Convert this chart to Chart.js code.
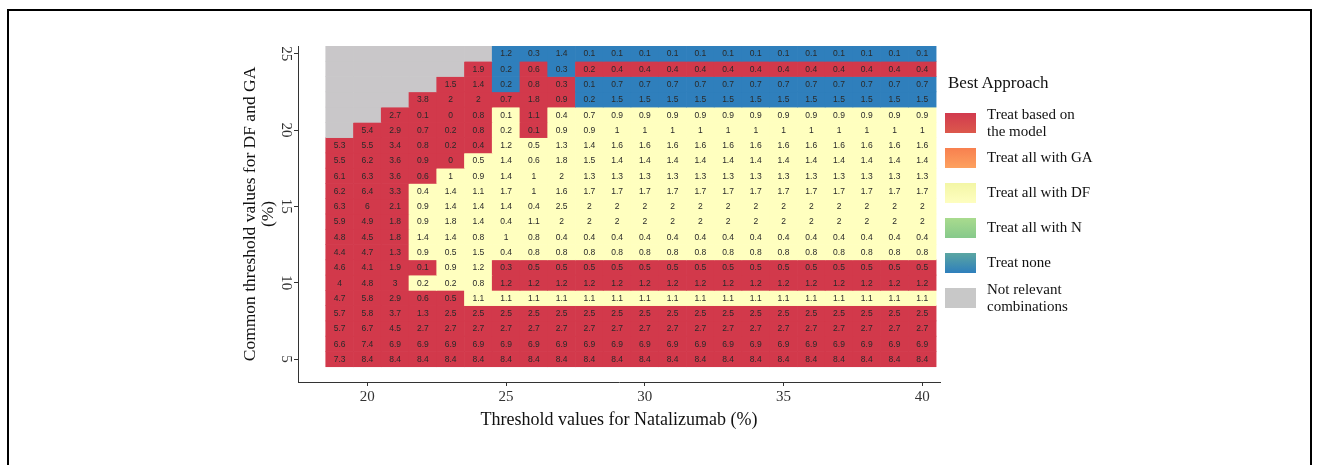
<!DOCTYPE html>
<html>
<head>
<meta charset="utf-8">
<script src="https://cdn.jsdelivr.net/npm/chart.js@4.4.1/dist/chart.umd.min.js"></script>
<style>
  html, body { margin: 0; padding: 0; background: #fff; }
  body { width: 1319px; height: 465px; position: relative; overflow: hidden; font-family: "Liberation Serif", serif; }
  #frame { position: absolute; left: 7px; top: 9px; width: 1301px; height: 470px; border: 2px solid #000; border-bottom: none; }
  #chart { position: absolute; left: 0; top: 0; }
  #legendTitle { position: absolute; left: 948px; top: 72px; font-size: 17px; line-height: 22px; color: #111; }
  #legend { position: absolute; left: 945px; top: 105px; }
  .item { height: 35px; display: flex; align-items: center; }
  .swatch { width: 31px; height: 20px; margin-right: 11px; flex: none; }
  .label { font-size: 15px; line-height: 17px; color: #111; }
</style>
</head>
<body>
<div id="frame"></div>
<canvas id="chart" width="1319" height="465"></canvas>
<div id="legendTitle">Best Approach</div>
<div id="legend"></div>
<script>
// Threshold for Natalizumab (columns) and common DF/GA threshold (rows, top to bottom)
const colThresholds = [19, 20, 21, 22, 23, 24, 25, 26, 27, 28, 29, 30, 31, 32, 33, 34, 35, 36, 37, 38, 39, 40];
const rowThresholds = [25, 24, 23, 22, 21, 20, 19, 18, 17, 16, 15, 14, 13, 12, 11, 10, 9, 8, 7, 6, 5];
const xTicks = [20, 25, 30, 35, 40];
const yTicks = [5, 10, 15, 20, 25];

// M = model, G = all GA, D = all DF, N = all N, B = none, X = not relevant
const approachKeys = ['M', 'G', 'D', 'N', 'B', 'X'];
const approachLabels = [
    ['Treat based on', 'the model'],
    ['Treat all with GA'],
    ['Treat all with DF'],
    ['Treat all with N'],
    ['Treat none'],
    ['Not relevant', 'combinations']
];

const bestApproach = [
    'XXXXXXBBBBBBBBBBBBBBBB',
    'XXXXXMBMBMMMMMMMMMMMMM',
    'XXXXMMBMMBBBBBBBBBBBBB',
    'XXXMMMMMMBBBBBBBBBBBBB',
    'XXMMMMDMDDDDDDDDDDDDDD',
    'XMMMMMDMDDDDDDDDDDDDDD',
    'MMMMMMDDDDDDDDDDDDDDDD',
    'MMMMMDDDDDDDDDDDDDDDDD',
    'MMMMDDDDDDDDDDDDDDDDDD',
    'MMMDDDDDDDDDDDDDDDDDDD',
    'MMMDDDDDDDDDDDDDDDDDDD',
    'MMMDDDDDDDDDDDDDDDDDDD',
    'MMMDDDDDDDDDDDDDDDDDDD',
    'MMMDDDDDDDDDDDDDDDDDDD',
    'MMMMDDMMMMMMMMMMMMMMMM',
    'MMMDDDMMMMMMMMMMMMMMMM',
    'MMMMMDDDDDDDDDDDDDDDDD',
    'MMMMMMMMMMMMMMMMMMMMMM',
    'MMMMMMMMMMMMMMMMMMMMMM',
    'MMMMMMMMMMMMMMMMMMMMMM',
    'MMMMMMMMMMMMMMMMMMMMMM'
];

const cellValues = [
    [null, null, null, null, null, null, 1.2, 0.3, 1.4, 0.1, 0.1, 0.1, 0.1, 0.1, 0.1, 0.1, 0.1, 0.1, 0.1, 0.1, 0.1, 0.1],
    [null, null, null, null, null, 1.9, 0.2, 0.6, 0.3, 0.2, 0.4, 0.4, 0.4, 0.4, 0.4, 0.4, 0.4, 0.4, 0.4, 0.4, 0.4, 0.4],
    [null, null, null, null, 1.5, 1.4, 0.2, 0.8, 0.3, 0.1, 0.7, 0.7, 0.7, 0.7, 0.7, 0.7, 0.7, 0.7, 0.7, 0.7, 0.7, 0.7],
    [null, null, null, 3.8, 2, 2, 0.7, 1.8, 0.9, 0.2, 1.5, 1.5, 1.5, 1.5, 1.5, 1.5, 1.5, 1.5, 1.5, 1.5, 1.5, 1.5],
    [null, null, 2.7, 0.1, 0, 0.8, 0.1, 1.1, 0.4, 0.7, 0.9, 0.9, 0.9, 0.9, 0.9, 0.9, 0.9, 0.9, 0.9, 0.9, 0.9, 0.9],
    [null, 5.4, 2.9, 0.7, 0.2, 0.8, 0.2, 0.1, 0.9, 0.9, 1, 1, 1, 1, 1, 1, 1, 1, 1, 1, 1, 1],
    [5.3, 5.5, 3.4, 0.8, 0.2, 0.4, 1.2, 0.5, 1.3, 1.4, 1.6, 1.6, 1.6, 1.6, 1.6, 1.6, 1.6, 1.6, 1.6, 1.6, 1.6, 1.6],
    [5.5, 6.2, 3.6, 0.9, 0, 0.5, 1.4, 0.6, 1.8, 1.5, 1.4, 1.4, 1.4, 1.4, 1.4, 1.4, 1.4, 1.4, 1.4, 1.4, 1.4, 1.4],
    [6.1, 6.3, 3.6, 0.6, 1, 0.9, 1.4, 1, 2, 1.3, 1.3, 1.3, 1.3, 1.3, 1.3, 1.3, 1.3, 1.3, 1.3, 1.3, 1.3, 1.3],
    [6.2, 6.4, 3.3, 0.4, 1.4, 1.1, 1.7, 1, 1.6, 1.7, 1.7, 1.7, 1.7, 1.7, 1.7, 1.7, 1.7, 1.7, 1.7, 1.7, 1.7, 1.7],
    [6.3, 6, 2.1, 0.9, 1.4, 1.4, 1.4, 0.4, 2.5, 2, 2, 2, 2, 2, 2, 2, 2, 2, 2, 2, 2, 2],
    [5.9, 4.9, 1.8, 0.9, 1.8, 1.4, 0.4, 1.1, 2, 2, 2, 2, 2, 2, 2, 2, 2, 2, 2, 2, 2, 2],
    [4.8, 4.5, 1.8, 1.4, 1.4, 0.8, 1, 0.8, 0.4, 0.4, 0.4, 0.4, 0.4, 0.4, 0.4, 0.4, 0.4, 0.4, 0.4, 0.4, 0.4, 0.4],
    [4.4, 4.7, 1.3, 0.9, 0.5, 1.5, 0.4, 0.8, 0.8, 0.8, 0.8, 0.8, 0.8, 0.8, 0.8, 0.8, 0.8, 0.8, 0.8, 0.8, 0.8, 0.8],
    [4.6, 4.1, 1.9, 0.1, 0.9, 1.2, 0.3, 0.5, 0.5, 0.5, 0.5, 0.5, 0.5, 0.5, 0.5, 0.5, 0.5, 0.5, 0.5, 0.5, 0.5, 0.5],
    [4, 4.8, 3, 0.2, 0.2, 0.8, 1.2, 1.2, 1.2, 1.2, 1.2, 1.2, 1.2, 1.2, 1.2, 1.2, 1.2, 1.2, 1.2, 1.2, 1.2, 1.2],
    [4.7, 5.8, 2.9, 0.6, 0.5, 1.1, 1.1, 1.1, 1.1, 1.1, 1.1, 1.1, 1.1, 1.1, 1.1, 1.1, 1.1, 1.1, 1.1, 1.1, 1.1, 1.1],
    [5.7, 5.8, 3.7, 1.3, 2.5, 2.5, 2.5, 2.5, 2.5, 2.5, 2.5, 2.5, 2.5, 2.5, 2.5, 2.5, 2.5, 2.5, 2.5, 2.5, 2.5, 2.5],
    [5.7, 6.7, 4.5, 2.7, 2.7, 2.7, 2.7, 2.7, 2.7, 2.7, 2.7, 2.7, 2.7, 2.7, 2.7, 2.7, 2.7, 2.7, 2.7, 2.7, 2.7, 2.7],
    [6.6, 7.4, 6.9, 6.9, 6.9, 6.9, 6.9, 6.9, 6.9, 6.9, 6.9, 6.9, 6.9, 6.9, 6.9, 6.9, 6.9, 6.9, 6.9, 6.9, 6.9, 6.9],
    [7.3, 8.4, 8.4, 8.4, 8.4, 8.4, 8.4, 8.4, 8.4, 8.4, 8.4, 8.4, 8.4, 8.4, 8.4, 8.4, 8.4, 8.4, 8.4, 8.4, 8.4, 8.4]
];

// styles
const cellColors = { M: '#d2394b', G: '#f98a56', D: '#ffffbf', N: '#99d594', B: '#2f7fbc', X: '#c9c7c9' };
const swatchFills = {
    M: 'linear-gradient(#d23a4e, #dc584c)',
    G: 'linear-gradient(#f8804f, #fda15f)',
    D: 'linear-gradient(#f3f6a6, #fefec0)',
    N: 'linear-gradient(#a9db8e, #86c98b)',
    B: 'linear-gradient(#5ba6a2, #2e7fbc)',
    X: '#c8c8c8'
};
const serif = '"Liberation Serif", "Times New Roman", serif';

// legend (HTML, right of the panel)
const legendEl = document.getElementById('legend');
approachKeys.forEach((key, i) => {
    const item = document.createElement('div');
    item.className = 'item';
    const sw = document.createElement('div');
    sw.className = 'swatch';
    sw.style.background = swatchFills[key];
    const lab = document.createElement('div');
    lab.className = 'label';
    lab.innerHTML = approachLabels[i].join('<br>');
    item.appendChild(sw);
    item.appendChild(lab);
    legendEl.appendChild(item);
});

// write the value in the middle of each tile
const cellLabels = {
    id: 'cellLabels',
    afterDatasetsDraw(chart) {
        const ctx = chart.ctx;
        ctx.save();
        ctx.font = '8.5px "Liberation Sans", Arial, sans-serif';
        ctx.fillStyle = '#2a2a2a';
        ctx.textAlign = 'center';
        ctx.textBaseline = 'middle';
        chart.data.datasets.forEach((ds, r) => {
            chart.getDatasetMeta(r).data.forEach((bar, c) => {
                const v = cellValues[r][c];
                if (v === null) return;
                ctx.fillText(String(v), bar.x, (bar.y + bar.base) / 2 + 0.5);
            });
        });
        ctx.restore();
    }
};

// one floating-bar dataset per row of tiles
const datasets = rowThresholds.map((y, r) => ({
    label: 'DF/GA ' + y + '%',
    data: colThresholds.map(x => ({ x: x, y: [y - 0.5, y + 0.5] })),
    backgroundColor: bestApproach[r].split('').map(k => cellColors[k]),
    borderWidth: 0,
    barPercentage: 1,
    categoryPercentage: 1,
    grouped: false
}));

new Chart(document.getElementById('chart'), {
    type: 'bar',
    data: { datasets: datasets },
    options: {
        responsive: false,
        animation: false,
        devicePixelRatio: 1,
        layout: { padding: { left: 237, right: 379, top: 46, bottom: 30 } },
        plugins: {
            legend: { display: false },
            tooltip: { enabled: false }
        },
        scales: {
            x: {
                type: 'linear',
                offset: false,
                min: 17.5,
                max: 40.64,
                afterBuildTicks: s => { s.ticks = xTicks.map(v => ({ value: v })); },
                afterFit: s => { s.height = 53; },
                grid: { offset: false, drawOnChartArea: false, tickLength: 4, color: '#333' },
                border: { color: '#333', width: 1 },
                ticks: { font: { family: serif, size: 15 }, color: '#333', padding: 2, maxRotation: 0 },
                title: {
                    display: true,
                    text: 'Threshold values for Natalizumab (%)',
                    font: { family: serif, size: 18 },
                    color: '#111',
                    padding: { top: 4, bottom: 4 }
                }
            },
            y: {
                type: 'linear',
                min: 3.5,
                max: 25.5,
                afterBuildTicks: s => { s.ticks = yTicks.map(v => ({ value: v })); },
                afterFit: s => { s.width = 61; },
                grid: { drawOnChartArea: false, tickLength: 4, color: '#333' },
                border: { color: '#333', width: 1 },
                ticks: { font: { family: serif, size: 15 }, color: '#333', padding: 1, minRotation: -90, maxRotation: -90, crossAlign: 'center' },
                title: {
                    display: true,
                    text: ['Common threshold values for DF and GA', '(%)'],
                    font: { family: serif, size: 17.5, lineHeight: 1.05 },
                    color: '#111',
                    padding: { top: 4, bottom: 4 }
                }
            }
        }
    },
    plugins: [cellLabels]
});
</script>
</body>
</html>
